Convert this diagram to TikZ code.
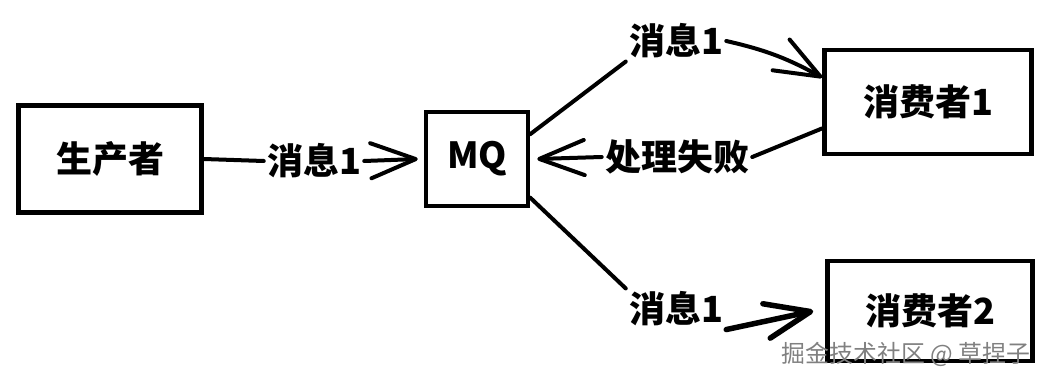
\documentclass[tikz,border=0pt]{standalone}
\usepackage{fontspec}
\setmainfont{Noto Sans CJK SC}
\usepackage{tikz}
\usetikzlibrary{arrows.meta, positioning}
\newlength\unitpx
\setlength\unitpx{0.025cm}

\begin{document}
\begin{tikzpicture}[
  x=0.025cm, y=-0.025cm,
  box/.style  = {draw, line width=4.5\unitpx, align=center, inner sep=0pt,
                 font=\fontsize{25.6}{30}\selectfont\bfseries},
  lbl/.style  = {inner sep=3\unitpx, font=\fontsize{25.6}{30}\selectfont\bfseries},
  link/.style = {line width=4\unitpx, line cap=round},
  tip/.style  = {link, -{Straight Barb[length=32pt, width=25pt, round]}}
]
  \useasboundingbox (0,0) rectangle (1051,380);

  \node[box, minimum width=183\unitpx, minimum height=107\unitpx] (prod)  at (110,159) {生产者};
  \node[box, minimum width=102\unitpx, minimum height=94\unitpx]  (mq)    at (477,159) {MQ};
  \node[box, minimum width=207\unitpx, minimum height=104\unitpx] (cons1) at (928,102) {消费者1};
  \node[box, minimum width=205\unitpx, minimum height=100\unitpx] (cons2) at (930,311) {消费者2};

  \node[lbl] (msgA) at (314,161) {消息1};
  \node[lbl] (msgB) at (676,41)  {消息1};
  \node[lbl] (fail) at (677,157) {处理失败};
  \node[lbl] (msgC) at (676,309) {消息1};
  \node[font=\fontsize{17}{20}\selectfont, text=gray] (mark) at (906,354) {掘金技术社区 @ 草捏子};

  \draw[link] (prod.east) -- (msgA.west);
  \draw[tip]  (msgA.east) -- ([xshift=-6\unitpx]mq.west);
  \draw[link] (mq.25) -- (msgB.south west);
  \draw[tip]  (msgB.east) to[bend left=8] (cons1.167);
  \draw[link] (cons1.194) -- (fail.east);
  \draw[tip]  (fail.west) -- ([xshift=7\unitpx]mq.east);
  \draw[link] (mq.-36) -- (msgC.north west);
  \draw[tip, line width=5.5\unitpx] (msgC.south east) -- ([xshift=-12\unitpx]cons2.west);
\end{tikzpicture}
\end{document}
